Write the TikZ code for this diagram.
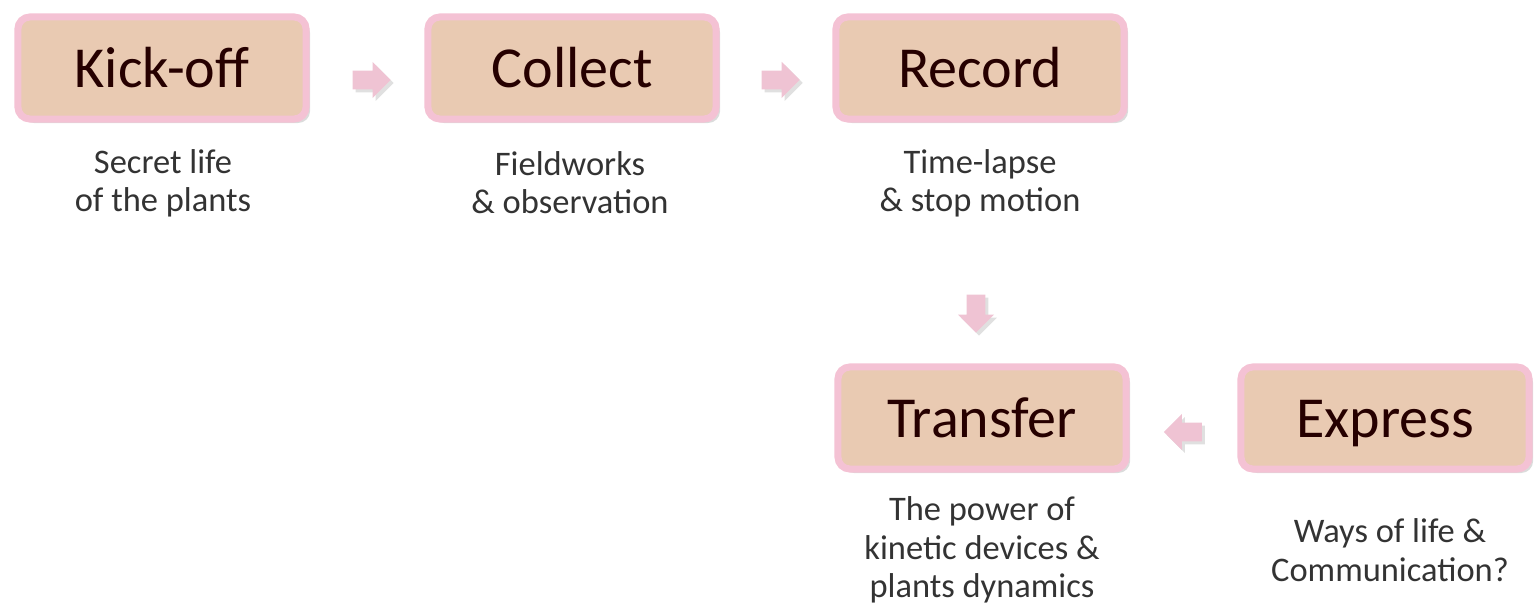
\documentclass[tikz,border=0pt]{standalone}
\usepackage{fontspec}
\setmainfont{Carlito}
\usetikzlibrary{shapes.arrows,shadows,calc}
\definecolor{tanfill}{HTML}{E9CAB2}
\definecolor{pinkedge}{HTML}{F4C2D4}
\definecolor{arrowpink}{HTML}{EFC3D3}
\begin{document}
\begin{tikzpicture}[x=0.01cm,y=-0.01cm,
  stepbox/.style={rectangle, rounded corners=0.12cm, fill=tanfill, draw=pinkedge,
    line width=0.07cm, minimum width=2.88cm, minimum height=1.02cm,
    text height=0.45cm, text depth=0.06cm,
    font=\fontsize{16.5pt}{18pt}\selectfont, text=black!85!red,
    drop shadow={shadow xshift=0.04cm, shadow yshift=-0.04cm, fill=black!40, opacity=0.35}},
  sublabel/.style={align=center, font=\fontsize{9.8pt}{10.9pt}\selectfont, text=black!80},
  blockarrow/.style={single arrow, fill=arrowpink, draw=none, minimum height=0.38cm,
    minimum width=0.36cm, single arrow head extend=0.07cm, inner sep=0.07cm,
    drop shadow={shadow xshift=0.03cm, shadow yshift=-0.03cm, fill=black!40, opacity=0.3}}]
\useasboundingbox (0,0) rectangle (1537,613);
\node[stepbox] (kick) at (162,68) {Kick-off};
\node[stepbox] (collect) at (572,68) {Collect};
\node[stepbox] (record) at (980,68) {Record};
\node[stepbox] (transfer) at (982,418) {Transfer};
\node[stepbox] (express) at (1385,418) {Express};

\node[sublabel] (s1) at (163,183) {Secret life\\of the plants};
\node[sublabel] (s2) at (570,183) {Fieldworks\\\& observation};
\node[sublabel] (s3) at (980,183) {Time-lapse\\\& stop motion};
\node[sublabel] (s4) at (982,550) {The power of\\kinetic devices \&\\plants dynamics};
\node[sublabel] (s5) at (1390,550) {Ways of life \&\\Communication?};

\node[blockarrow] (a1) at ($(kick.east)!0.5!(collect.west)+(0,12)$) {};
\node[blockarrow] (a2) at ($(collect.east)!0.5!(record.west)+(0,12)$) {};
\node[blockarrow, rotate=-90] (a3) at ($(record.south)!0.5!(transfer.north)+(-5,66)$) {};
\node[blockarrow, rotate=180] (a4) at ($(transfer.east)!0.5!(express.west)+(4,14)$) {};
\end{tikzpicture}
\end{document}
